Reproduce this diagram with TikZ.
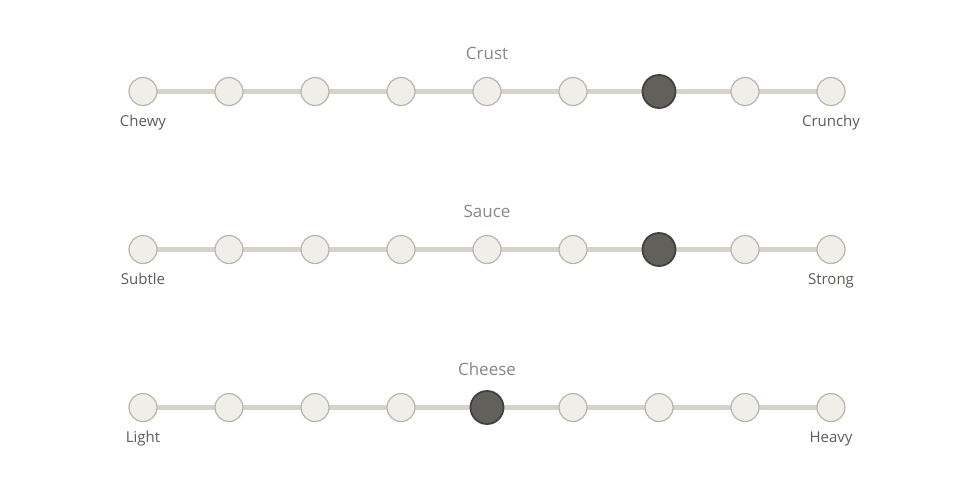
\documentclass[tikz,border=0pt]{standalone}
\usepackage{fontspec}
\setmainfont{Open Sans}
\definecolor{trackc}{HTML}{D6D3CA}
\definecolor{dotfill}{HTML}{F0EEE8}
\definecolor{dotline}{HTML}{B9B5AC}
\definecolor{selfill}{HTML}{62605B}
\definecolor{selline}{HTML}{43413D}
\definecolor{titlec}{HTML}{8A8883}
\definecolor{labelc}{HTML}{5E5C58}
\tikzset{
  dot/.style={circle, draw=dotline, fill=dotfill, line width=1.2pt, minimum size=28pt, inner sep=0pt},
  seldot/.style={circle, draw=selline, fill=selfill, line width=1.8pt, minimum size=33pt, inner sep=0pt},
  track/.style={draw=trackc, line width=5pt},
  ttl/.style={text=titlec, font=\fontsize{17}{20}\selectfont, inner sep=0pt, anchor=base},
  lbl/.style={text=labelc, font=\fontsize{15}{18}\selectfont, inner sep=0pt, anchor=base},
}
\begin{document}
\begin{tikzpicture}[x=1pt,y=-1pt]
\useasboundingbox (0,0) rectangle (975,488);
\foreach \row/\yy/\sel/\tt/\la/\lb in {1/91.5/7/Crust/Chewy/Crunchy, 2/249.5/7/Sauce/Subtle/Strong, 3/407.5/5/Cheese/Light/Heavy}{
  \coordinate (s\row) at (143,\yy);
  \coordinate (e\row) at (831,\yy);
  \draw[track] (s\row) -- (e\row);
  \foreach \i in {1,...,9}{
    \pgfmathsetmacro{\xx}{143+86*(\i-1)}
    \ifnum\i=\sel
      \node[seldot] (d\row-\i) at (\xx,\yy) {};
    \else
      \node[dot] (d\row-\i) at (\xx,\yy) {};
    \fi
  }
  \node[ttl] (t\row) at (487,\yy-32) {\tt};
  \node[lbl] (l\row) at (143,\yy+35) {\la};
  \node[lbl] (r\row) at (831,\yy+35) {\lb};
}
\end{tikzpicture}
\end{document}
